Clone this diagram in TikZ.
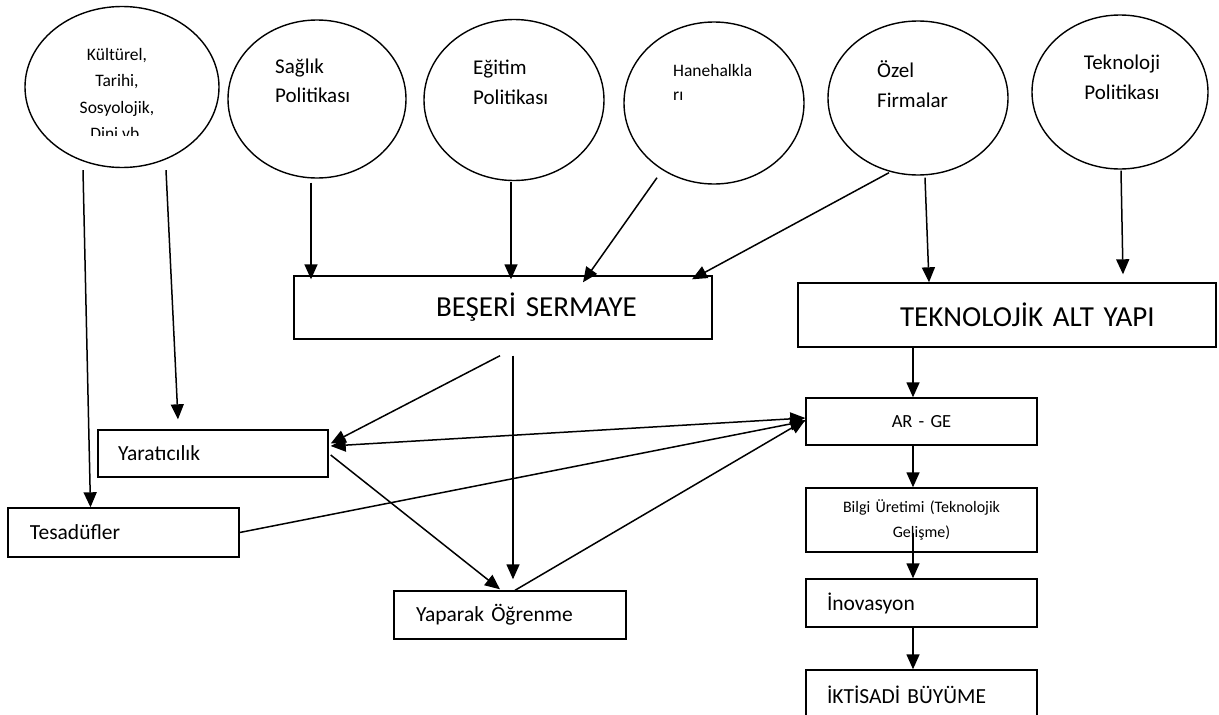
\documentclass[tikz,border=0pt]{standalone}
\usepackage{fontspec}
\setmainfont{Carlito}
\usetikzlibrary{arrows.meta,shapes.geometric,calc}
\begin{document}
\begin{tikzpicture}[x=1pt,y=-1pt,
  >={Triangle[length=15pt,width=13pt]},
  bubble/.style={draw, ellipse, line width=1.4pt, inner sep=0pt},
  box/.style={draw, rectangle, line width=1.4pt, inner sep=0pt, align=left},
  arr/.style={line width=1.5pt, ->},
  lbl/.style={inner sep=0pt, anchor=base west},
  fbig/.style={font=\fontsize{29}{34}\selectfont},
  fmid/.style={font=\fontsize{21.5}{25}\selectfont}
]
\useasboundingbox (0,0) rectangle (1219,715);
\clip (0,0) rectangle (1219,715);
\fill[white] (0,0) rectangle (1219,715);

% ---- ellipses ----
\node[bubble, minimum width=194pt, minimum height=161pt] (kult) at (122,87) {};
\node[bubble, minimum width=178pt, minimum height=158pt] (sag) at (317,99) {};
\node[bubble, minimum width=180pt, minimum height=161pt] (egit) at (514,100) {};
\node[bubble, minimum width=180pt, minimum height=162pt] (hane) at (714,103) {};
\node[bubble, minimum width=180pt, minimum height=154pt] (ozel) at (918,98) {};
\node[bubble, minimum width=176pt, minimum height=154pt] (tekp) at (1120,92) {};

% ---- ellipse texts ----
\begin{scope}
\clip (20,0) rectangle (220,135);
\node[inner sep=0pt, anchor=base] (tkult) at (117,60)
  {\parbox[t]{130pt}{\centering\fontsize{17.5}{26.5}\selectfont Kültürel,\\Tarihi,\\Sosyolojik,\\Dini vb.}};
\end{scope}
\node[lbl] (tsag) at (275,73)
  {\parbox[t]{110pt}{\fontsize{21}{29.5}\selectfont Sağlık\\Politikası}};
\node[lbl] (tegit) at (473,74)
  {\parbox[t]{110pt}{\fontsize{21}{30.5}\selectfont Eğitim\\Politikası}};
\node[lbl] (thane) at (673,76)
  {\parbox[t]{110pt}{\fontsize{17.5}{24}\selectfont Hanehalkla\\rı}};
\node[lbl] (tozel) at (877,77)
  {\parbox[t]{110pt}{\fontsize{21}{30}\selectfont Özel\\Firmalar}};
\node[inner sep=0pt, anchor=base] (ttekp) at (1122,69)
  {\parbox[t]{120pt}{\centering\fontsize{21}{30}\selectfont Teknoloji\\Politikası}};

% ---- boxes ----
\node[box, fbig, text width=418pt, minimum height=63pt] (bes) at (503,307.5)
  {\hspace*{142pt}BEŞERİ SERMAYE};
\node[box, fbig, text width=418pt, minimum height=64pt] (tek) at (1007,315)
  {\hspace*{102pt}TEKNOLOJİK ALT YAPI};
\node[box, align=center, text width=231pt, minimum height=47pt,
  font=\fontsize{18.5}{22}\selectfont] (arge) at (921.5,421.5) {AR - GE};
\node[box, align=center, text width=231pt, minimum height=64pt,
  font=\fontsize{16}{25}\selectfont] (bil) at (921.5,520)
  {Bilgi Üretimi (Teknolojik\\Gelişme)};
\node[box, fmid, text width=231pt, minimum height=48pt] (ino) at (921.5,603)
  {\hspace*{21pt}İnovasyon};
\node[box, fmid, text width=231pt, minimum height=50pt] (ikt) at (921.5,695)
  {\hspace*{21pt}İKTİSADİ BÜYÜME};
\node[box, fmid, text width=230pt, minimum height=47pt] (yar) at (213,453.5)
  {\hspace*{20pt}Yaratıcılık};
\node[box, fmid, text width=231pt, minimum height=49pt] (tes) at (123.5,532.5)
  {\hspace*{22pt}Tesadüfler};
\node[box, fmid, text width=232pt, minimum height=48pt] (yap) at (510,615)
  {\hspace*{22pt}Yaparak Öğrenme};

% ---- connectors ----
\draw[arr] ($(kult.south)+(-39,2)$) -- ($(tes.north)+(-33,0)$);
\draw[arr] ($(kult.south)+(44,2)$) -- ($(yar.north)+(-35,-10)$);
\draw[arr] ($(sag.south)+(-6,4)$) -- ($(bes.north)+(-192,4)$);
\draw[arr] ($(egit.south)+(-3,1)$) -- ($(bes.north)+(8,4)$);
\draw[arr] ($(hane.south)+(-57,-7)$) -- ($(bes.north)+(80,7)$);
\draw[arr] ($(ozel.south)+(-29,-3)$) -- ($(bes.north)+(189,4)$);
\draw[arr] ($(ozel.south)+(7,2)$) -- ($(tek.north)+(-78,0)$);
\draw[arr] ($(tekp.south)+(1,1)$) -- ($(tek.north)+(116,-8)$);
\draw[arr] ($(tek.south)+(-94,0)$) -- ($(arge.north)+(-8.5,0)$);
\draw[arr] ($(arge.south)+(-8.5,0)$) -- ($(bil.north)+(-8.5,0)$);
\draw[arr] ($(bil.south)+(-8.5,-20)$) -- ($(ino.north)+(-8.5,0)$);
\draw[arr] ($(ino.south)+(-8.5,0)$) -- ($(ikt.north)+(-8.5,0)$);
\draw[arr] ($(bes.south)+(-3,16)$) -- ($(yar.east)+(2,-10)$);
\draw[arr] ($(bes.south)+(10,16)$) -- ($(yap.north)+(3,-11)$);
\draw[arr] ($(yar.east)+(2,1.5)$) -- ($(yap.north)+(-10,-1)$);
\draw[arr] ($(yap.north)+(5,0)$) -- ($(arge.west)+(0,-1.5)$);
\draw[line width=1.5pt, <->] ($(yar.east)+(2,-7.5)$) -- ($(arge.west)+(0,-3.5)$);
\draw[arr] (tes.east) -- ($(arge.west)+(0,-0.5)$);
\end{tikzpicture}
\end{document}
